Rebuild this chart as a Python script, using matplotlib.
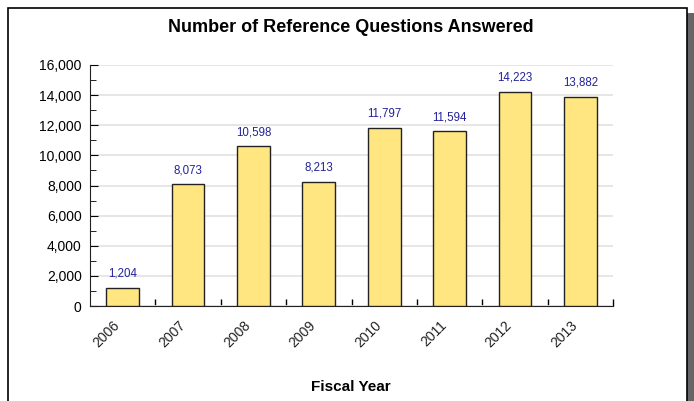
import matplotlib
matplotlib.use("Agg")
import matplotlib.pyplot as plt
from matplotlib.patches import Rectangle
from matplotlib.transforms import offset_copy
from matplotlib.ticker import MultipleLocator, FixedLocator, FuncFormatter, NullLocator

plt.rcParams['font.family'] = ['Liberation Sans', 'DejaVu Sans']

years = ['2006', '2007', '2008', '2009', '2010', '2011', '2012', '2013']
answered = [1204, 8073, 10598, 8213, 11797, 11594, 14223, 13882]

fig = plt.figure(figsize=(6.94, 4.01), dpi=100)

# frame and shadow around the chart
fig.patches.append(Rectangle((687/694, 0), 7/694, 1 - 13/401, transform=fig.transFigure,
                             facecolor='#666666', edgecolor='none', zorder=0))
fig.patches.append(Rectangle((8/694, -0.05), 679/694, 1.05 - 8/401, transform=fig.transFigure,
                             facecolor='white', edgecolor='black', linewidth=1.2, zorder=1))

ax = fig.add_axes([90/694, 1 - 306/401, 523/694, 241/401])
ax.set_zorder(2)
ax.patch.set_alpha(0)

x = list(range(len(years)))
ax.bar(x, answered, width=0.5, color='#FFE680', edgecolor='#222222', linewidth=1, zorder=3)
for xi, v in zip(x, answered):
    ax.annotate(f'{v:,}', (xi, v), xytext=(0, 6), textcoords='offset points',
                ha='center', va='bottom', fontsize=8.3, color='#22229A')

ax.set_xlim(-0.5, len(years) - 0.5)
ax.set_ylim(0, 16000)
ax.yaxis.set_major_locator(MultipleLocator(2000))
ax.yaxis.set_minor_locator(MultipleLocator(1000))
ax.yaxis.set_major_formatter(FuncFormatter(lambda v, p: f'{int(v):,}'))
ax.grid(axis='y', color='#E2E2E2', linewidth=1.2, zorder=0)

# category labels, rotated, ending just left of the bar centre
ax.xaxis.set_major_locator(NullLocator())
lbl_tr = offset_copy(ax.get_xaxis_transform(), fig=fig, x=-10, y=-12, units='dots')
for xi, yr in zip(x, years):
    ax.text(xi, 0, yr, transform=lbl_tr, rotation=45, ha='right', va='top',
            rotation_mode='anchor', fontsize=10, color='#222222')
ax.xaxis.set_minor_locator(FixedLocator([i + 0.5 for i in x]))
ax.tick_params(axis='x', which='minor', direction='in', length=5, width=1)
ax.tick_params(axis='y', which='major', direction='in', length=6, labelsize=10, pad=6)
ax.tick_params(axis='y', which='minor', direction='in', length=4)

for s in ['top', 'right']:
    ax.spines[s].set_visible(False)
ax.spines['left'].set_color('#222222')
ax.spines['bottom'].set_color('#222222')

fig.text(351/694, 1 - 28/401, 'Number of Reference Questions Answered', ha='center', va='center',
         fontsize=13, fontweight='bold')
fig.text(351/694, 1 - 387/401, 'Fiscal Year', ha='center', va='center',
         fontsize=11, fontweight='bold')

fig.savefig('out.png', dpi=100)
